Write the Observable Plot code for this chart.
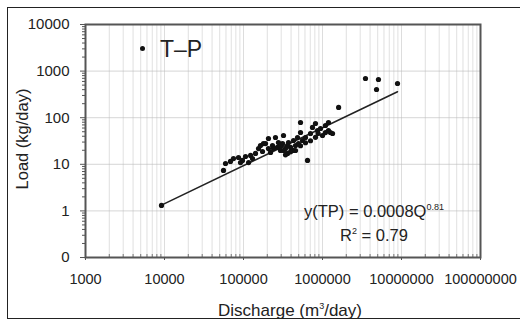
<!DOCTYPE html>
<html><head><meta charset="utf-8">
<script src="https://cdn.jsdelivr.net/npm/d3@7"></script>
<script src="https://cdn.jsdelivr.net/npm/@observablehq/plot@0.6"></script>
<style>
html,body{margin:0;padding:0;background:#fff;width:520px;height:323px;overflow:hidden;font-family:Arial,"Liberation Sans",sans-serif;color:#222;}
#wrap{position:relative;width:520px;height:323px;}
#border{position:absolute;left:7px;top:7px;width:600px;height:312px;border:1.5px solid #222;box-sizing:border-box;}
#chart{position:absolute;left:0;top:0;}
.ov{position:absolute;white-space:nowrap;color:#222;}
#legend{left:140px;top:36px;font-size:23px;}
#legend .dot{display:inline-block;width:5px;height:5px;border-radius:50%;background:#111;vertical-align:middle;margin-right:15px;position:relative;top:-2px;}
#eq{left:303px;top:199px;font-size:16.5px;line-height:24px;text-align:center;width:142px;}
sup{font-size:9px;vertical-align:7px;line-height:0;}
#ylab{left:22px;top:139px;font-size:16.5px;transform:translate(-50%,-50%) rotate(-90deg);}
#xlab{left:290px;top:311px;font-size:17px;transform:translate(-50%,-50%);}
</style></head>
<body><div id="wrap"><div id="border"></div><div id="chart"></div>
<div class="ov" id="legend"><span class="dot"></span>T–P</div>
<div class="ov" id="eq">y(TP) = 0.0008Q<sup>0.81</sup><br>R<sup>2</sup> = 0.79</div>
<div class="ov" id="ylab">Load (kg/day)</div>
<div class="ov" id="xlab">Discharge (m<sup>3</sup>/day)</div>
</div>
<script>
const discharge = [9160,55800,59200,68400,74700,86500,97100,106000,123000,130000,142000,155000,174000,164000,190000,207000,91600,116000,179000,207000,233000,254000,269000,294000,312000,321000,340000,361000,371000,394000,417000,430000,455000,483000,497000,527000,527000,558000,609000,646000,705000,747000,815000,864000,944000,1000000,1090000,1190000,1260000,1340000,1600000,3500000,5110000,4830000,8900000,240000,277000,321000,430000,361000,340000,394000,455000,294000,220000,527000,609000,705000,815000,1090000,1190000,880000];
const load = [1.31,7.4,10.4,11.5,13.3,14.0,12.1,14.7,15.5,13.3,17.1,21.8,18.8,25.3,27.9,21.8,10.9,10.9,27.9,35.8,25.3,37.6,23.0,19.8,27.9,41.5,21.8,17.1,29.4,23.0,19.8,32.4,25.3,37.6,27.9,48.1,78.9,32.4,37.6,12.1,45.8,61.7,75.1,53.1,58.6,41.5,68.1,78.9,48.1,45.8,166,694,661,403,542,21.8,29.4,19.8,19.8,25.3,16,18.5,19.8,24,18,25,29,32,38,48,53,46];
const fitQ = [9160, 8900000];
const fitL = [1.33, 360];
const xTicks = [1000,10000,100000,1000000,10000000,100000000];
const xTickLabels = ["1000","10000","100000","1000000","10000000","100000000"];
const yTicks = [0.1,1,10,100,1000,10000];
const yTickLabels = ["0","1","10","100","1000","10000"];

const points = discharge.map((q,i)=>({q, l: load[i]}));
const fit = fitQ.map((q,i)=>({q, l: fitL[i]}));
const minors = (ticks) => ticks.slice(0,-1).flatMap(t => d3.range(2,10).map(k => t*k));
const xMinor = minors(xTicks);
const yMinor = minors(yTicks);

const chart = Plot.plot({
  width: 520, height: 323,
  marginLeft: 85, marginRight: 40, marginTop: 24, marginBottom: 66,
  style: {fontFamily: "Arial, 'Liberation Sans', sans-serif", fontSize: "14.5px", color: "#222", background: "transparent"},
  x: {type: "log", domain: [1000, 100000000], label: null},
  y: {type: "log", domain: [0.1, 10000], label: null},
  marks: [
    Plot.gridX(xMinor, {stroke: "#bbb", strokeOpacity: 0.45}),
    Plot.gridX(xTicks, {stroke: "#bbb", strokeOpacity: 0.5}),
    Plot.gridY(yTicks, {stroke: "#bbb", strokeOpacity: 0.6}),
    Plot.axisY(yMinor, {tickSize: 3, tickFormat: () => "", label: null, stroke: "#555"}),
    Plot.axisX(xMinor, {tickSize: -3, tickFormat: () => "", label: null, stroke: "#777"}),
    Plot.axisY(yTicks, {tickSize: 5, tickPadding: 11, fontSize: 15, tickFormat: (d) => yTickLabels[yTicks.indexOf(d)], label: null, fill: "#222", stroke: "#555"}),
    Plot.axisX(xTicks, {tickSize: 3, tickPadding: 13, fontSize: 14.5, tickFormat: (d) => xTickLabels[xTicks.indexOf(d)], label: null, fill: "#222", stroke: "#555"}),
    Plot.frame({stroke: "#555", strokeWidth: 2}),
    Plot.line(fit, {x: "q", y: "l", stroke: "#222", strokeWidth: 1.6}),
    Plot.dot(points, {x: "q", y: "l", r: 2.6, fill: "#111", stroke: "none"})
  ]
});
document.getElementById("chart").appendChild(chart);
</script></body></html>
